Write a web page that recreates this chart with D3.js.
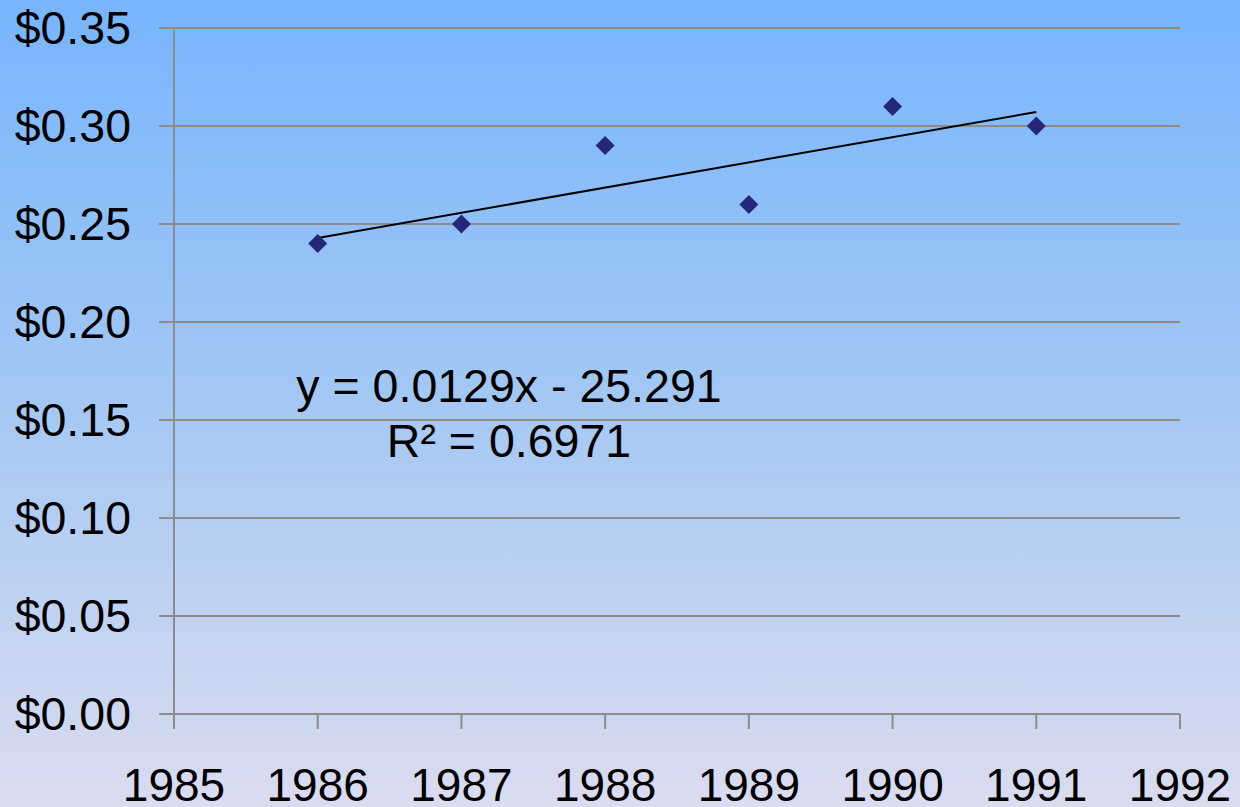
<!DOCTYPE html>
<html>
<head>
<meta charset="utf-8">
<script src="https://cdn.jsdelivr.net/npm/d3@7"></script>
<style>
  html, body { margin: 0; padding: 0; }
  svg { display: block; }
</style>
</head>
<body>
<script>
// data
const years = [1986, 1987, 1988, 1989, 1990, 1991];
const prices = [0.24, 0.25, 0.29, 0.26, 0.31, 0.30];
const xTicks = [1985, 1986, 1987, 1988, 1989, 1990, 1991, 1992];
const yTicks = [0, 0.05, 0.10, 0.15, 0.20, 0.25, 0.30, 0.35];
const equationLines = ["y = 0.0129x - 25.291", "R\u00b2 = 0.6971"];

const width = 1240, height = 807;
const svg = d3.select('body').append('svg')
  .attr('width', width)
  .attr('height', height);

// background gradient
const grad = svg.append('defs').append('linearGradient')
  .attr('id', 'bg').attr('x1', 0).attr('y1', 0).attr('x2', 0).attr('y2', 1);
grad.append('stop').attr('offset', '0%').attr('stop-color', '#77b5fe');
grad.append('stop').attr('offset', '50%').attr('stop-color', '#a4c8f3');
grad.append('stop').attr('offset', '100%').attr('stop-color', '#dbdcf0');
svg.append('rect').attr('width', width).attr('height', height).attr('fill', 'url(#bg)');

const x = d3.scaleLinear().domain([1985, 1992]).range([174, 1180]);
const y = d3.scaleLinear().domain([0, 0.35]).range([714, 28]);

const font = '"Liberation Sans", Arial, sans-serif';
const grid = '#8c8c8c';

// horizontal gridlines (with small tick to the left)
svg.append('g').selectAll('line')
  .data(yTicks)
  .join('line')
  .attr('x1', 159).attr('x2', 1180)
  .attr('y1', d => y(d)).attr('y2', d => y(d))
  .attr('stroke', grid).attr('stroke-width', 2);

// y axis line
svg.append('line')
  .attr('x1', 174).attr('x2', 174)
  .attr('y1', y(0.35)).attr('y2', 729)
  .attr('stroke', grid).attr('stroke-width', 2);

// x ticks
svg.append('g').selectAll('line')
  .data(xTicks)
  .join('line')
  .attr('x1', d => x(d)).attr('x2', d => x(d))
  .attr('y1', 714).attr('y2', 729)
  .attr('stroke', grid).attr('stroke-width', 2);

// y labels
svg.append('g').selectAll('text')
  .data(yTicks)
  .join('text')
  .attr('x', 131)
  .attr('y', d => y(d) + 16)
  .attr('text-anchor', 'end')
  .attr('font-family', font)
  .attr('font-size', 46.5)
  .attr('fill', '#000')
  .text(d => '$' + d.toFixed(2));

// x labels
svg.append('g').selectAll('text')
  .data(xTicks)
  .join('text')
  .attr('x', d => x(d))
  .attr('y', 801)
  .attr('text-anchor', 'middle')
  .attr('font-family', font)
  .attr('font-size', 46)
  .attr('fill', '#000')
  .text(d => d);

// linear trend line (least squares)
const mx = d3.mean(years), my = d3.mean(prices);
const slope = d3.sum(years, (d, i) => (d - mx) * (prices[i] - my)) / d3.sum(years, d => (d - mx) ** 2);
const icpt = my - slope * mx;
const x0 = d3.min(years), x1 = d3.max(years);
svg.append('line')
  .attr('x1', x(x0)).attr('y1', y(slope * x0 + icpt))
  .attr('x2', x(x1)).attr('y2', y(slope * x1 + icpt))
  .attr('stroke', '#000').attr('stroke-width', 2);

// diamond markers
const diamond = d3.symbol().type(d3.symbolSquare).size(180);
svg.append('g').selectAll('path')
  .data(years)
  .join('path')
  .attr('d', diamond)
  .attr('transform', (d, i) => `translate(${x(d)},${y(prices[i])}) rotate(45)`)
  .attr('fill', '#27277a');

// equation text
svg.append('g').selectAll('text')
  .data(equationLines)
  .join('text')
  .attr('x', 509)
  .attr('y', (d, i) => 402 + i * 55)
  .attr('text-anchor', 'middle')
  .attr('font-family', font)
  .attr('font-size', 46.5)
  .attr('fill', '#000')
  .text(d => d);
</script>
</body>
</html>
